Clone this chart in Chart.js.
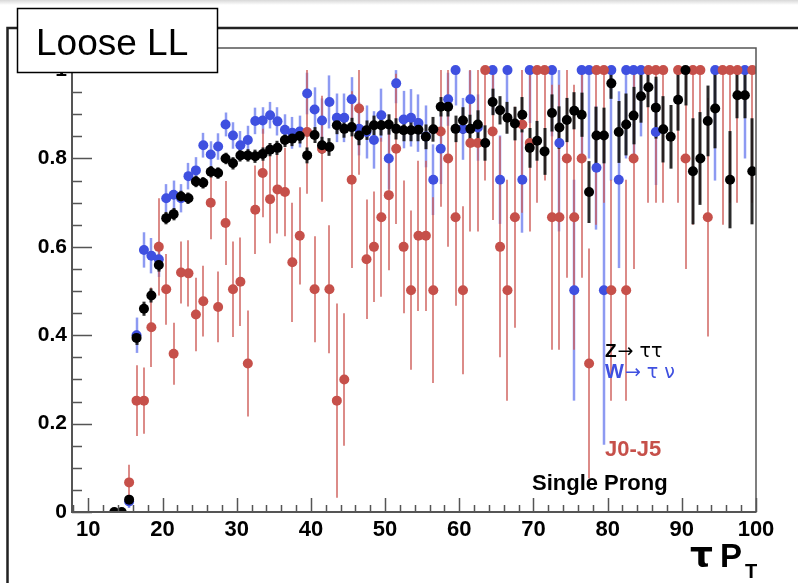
<!DOCTYPE html>
<html>
<head>
<meta charset="utf-8">
<script src="https://cdn.jsdelivr.net/npm/chart.js@4.4.1/dist/chart.umd.min.js"></script>
<style>
  html, body { margin: 0; padding: 0; background: #fff; }
  #wrap { width: 798px; height: 583px; }
</style>
</head>
<body>
<div id="wrap"><canvas id="myChart" width="798" height="583"></canvas></div>
<script>
// tau pT bin centres (GeV)
const ptBins = [
  13.5, 14.5, 15.5, 16.5, 17.5, 18.5, 19.5, 20.5, 21.5, 22.5,
  23.5, 24.5, 25.5, 26.5, 27.5, 28.5, 29.5, 30.5, 31.5, 32.5,
  33.5, 34.5, 35.5, 36.5, 37.5, 38.5, 39.5, 40.5, 41.5, 42.5,
  43.5, 44.5, 45.5, 46.5, 47.5, 48.5, 49.5, 50.5, 51.5, 52.5,
  53.5, 54.5, 55.5, 56.5, 57.5, 58.5, 59.5, 60.5, 61.5, 62.5,
  63.5, 64.5, 65.5, 66.5, 67.5, 68.5, 69.5, 70.5, 71.5, 72.5,
  73.5, 74.5, 75.5, 76.5, 77.5, 78.5, 79.5, 80.5, 81.5, 82.5,
  83.5, 84.5, 85.5, 86.5, 87.5, 88.5, 89.5, 90.5, 91.5, 92.5,
  93.5, 94.5, 95.5, 96.5, 97.5, 98.5, 99.5
];

// Z -> tautau efficiency
const zttVals = [
  0, 0, 0.028, 0.394, 0.46, 0.49, 0.559, 0.665, 0.674, 0.714,
  0.71, 0.748, 0.745, 0.77, 0.767, 0.8, 0.789, 0.807, 0.807, 0.805,
  0.81, 0.82, 0.824, 0.842, 0.845, 0.851, 0.807, 0.853, 0.83, 0.826,
  0.875, 0.867, 0.871, 0.852, 0.864, 0.875, 0.875, 0.877, 0.867, 0.864,
  0.864, 0.865, 0.849, 0.866, 0.917, 0.917, 0.867, 0.886, 0.867, 0.877,
  0.835, 0.928, 0.909, 0.892, 0.879, 0.899, 0.824, 0.84, 0.816, 0.903,
  0.87, 0.887, 0.908, 0.899, 0.724, 0.852, 0.852, 0.97, 0.86, 0.877,
  0.897, 0.941, 0.961, 0.915, 0.866, 0.849, 0.933, 1.0, 0.771, 0.8,
  0.885, 0.913, null, 0.752, 0.943, 0.943, 0.771
];
const zttErrs = [
  0.005, 0.005, 0.01, 0.016, 0.016, 0.016, 0.015, 0.014, 0.014, 0.013,
  0.013, 0.013, 0.013, 0.013, 0.013, 0.013, 0.014, 0.014, 0.014, 0.015,
  0.015, 0.015, 0.016, 0.016, 0.017, 0.017, 0.018, 0.018, 0.019, 0.02,
  0.02, 0.02, 0.021, 0.022, 0.022, 0.022, 0.023, 0.023, 0.024, 0.025,
  0.025, 0.026, 0.028, 0.028, 0.022, 0.022, 0.03, 0.03, 0.032, 0.032,
  0.04, 0.03, 0.032, 0.036, 0.038, 0.04, 0.045, 0.045, 0.053, 0.042,
  0.048, 0.05, 0.042, 0.05, 0.07, 0.065, 0.063, 0.035, 0.07, 0.07,
  0.065, 0.06, 0.045, 0.07, 0.075, 0.072, 0.07, 0.08, 0.12, 0.105,
  0.08, 0.09, null, 0.11, 0.052, 0.052, 0.12
];

// W -> tau nu efficiency
const wtnVals = [
  null, null, 0.024, 0.40, 0.593, 0.58, 0.572, 0.71, 0.718, 0.71,
  0.76, 0.773, 0.83, 0.809, 0.827, 0.877, 0.852, 0.83, 0.842, 0.885,
  0.886, 0.898, 0.884, 0.865, 0.858, 0.861, 0.947, 0.911, 0.886, 0.928,
  0.892, 0.892, 0.934, 0.867, 0.86, 0.842, 0.898, 0.8, 0.97, 0.888,
  0.892, 0.88, 0.85, 0.752, 0.822, 0.934, 1.0, 0.867, 0.934, 0.87,
  null, 1.0, 0.752, 1.0, null, 0.752, 1.0, null, null, 1.0,
  0.835, null, 0.502, 1.0, 1.0, 0.779, 0.502, 1.0, 0.752, 1.0,
  1.0, 1.0, null, 0.86, null, null, null, null, null, null,
  null, 1.0, null, null, null, 1.0, null
];
const wtnErrs = [
  null, null, 0.015, 0.04, 0.04, 0.04, 0.04, 0.032, 0.032, 0.032,
  0.03, 0.03, 0.028, 0.03, 0.03, 0.027, 0.03, 0.032, 0.032, 0.03,
  0.03, 0.03, 0.032, 0.035, 0.036, 0.036, 0.047, 0.05, 0.05, 0.06,
  0.055, 0.055, 0.05, 0.06, 0.06, 0.065, 0.06, 0.07, 0.045, 0.065,
  0.065, 0.065, 0.07, 0.08, 0.08, 0.06, 0.08, 0.07, 0.065, 0.075,
  null, 0.1, 0.1, 0.1, null, 0.12, 0.12, null, null, 0.15,
  0.2, null, 0.25, 0.2, 0.2, 0.14, 0.35, 0.25, 0.2, 0.2,
  0.2, 0.15, null, 0.12, null, null, null, null, null, null,
  null, 0.25, null, null, null, 0.2, null
];

// J0-J5 dijet fake rate
const jetVals = [
  null, null, 0.067, 0.252, 0.252, 0.418, 0.60, 0.504, 0.358, 0.542,
  0.54, 0.447, 0.477, 0.70, 0.464, 0.654, 0.504, 0.521, 0.336, 0.684,
  0.767, 0.708, 0.73, 0.724, 0.565, 0.625, 0.86, 0.504, 0.822, 0.504,
  0.252, 0.30, 0.752, 0.913, 0.572, 0.60, 0.667, 0.717, 0.822, 0.60,
  0.502, 0.625, 0.625, 0.502, 0.861, 0.80, 0.667, 0.502, 0.835, 0.835,
  1.0, 0.861, 0.60, 0.502, 0.667, 0.877, 0.835, 1.0, 1.0, 0.667,
  0.667, 0.80, 0.667, 0.80, 0.336, 1.0, 1.0, 0.502, null, 0.502,
  0.80, null, 1.0, 1.0, 1.0, null, 1.0, 0.80, 1.0, 1.0,
  0.667, null, 1.0, 1.0, 1.0, null, 1.0
];
const jetErrs = [
  null, null, 0.04, 0.08, 0.075, 0.09, 0.11, 0.08, 0.07, 0.07,
  0.075, 0.083, 0.08, 0.083, 0.08, 0.095, 0.108, 0.1, 0.12, 0.1,
  0.1, 0.1, 0.1, 0.1, 0.135, 0.11, 0.14, 0.12, 0.12, 0.145,
  0.22, 0.15, 0.2, 0.15, 0.135, 0.125, 0.18, 0.17, 0.17, 0.15,
  0.18, 0.17, 0.17, 0.21, 0.17, 0.2, 0.2, 0.19, 0.2, 0.2,
  0.25, 0.2, 0.25, 0.25, 0.25, 0.2, 0.2, 0.3, 0.25, 0.3,
  0.3, 0.27, 0.3, 0.27, 0.26, 0.35, 0.3, 0.25, null, 0.25,
  0.25, null, 0.3, 0.3, 0.3, null, 0.3, 0.25, 0.35, 0.3,
  0.27, null, 0.35, 0.3, 0.3, null, 0.3
];

const xTicks = [10, 20, 30, 40, 50, 60, 70, 80, 90, 100];
const yTicks = [0, 0.2, 0.4, 0.6, 0.8, 1];

const black = '#000000';
const blue = '#3f50e0';
const red = '#c6504a';

function makePoints(vals, errs) {
  const pts = [];
  ptBins.forEach((x, i) => {
    if (vals[i] !== null) pts.push({x: x, y: vals[i], err: errs[i] || 0});
  });
  return pts;
}

// vertical error bars, drawn under all markers
const errorBars = {
  id: 'errorBars',
  beforeDatasetsDraw(chart) {
    const ctx = chart.ctx;
    const xs = chart.scales.x;
    const ys = chart.scales.y;
    ctx.save();
    for (let d = chart.data.datasets.length - 1; d >= 0; d--) {
      const ds = chart.data.datasets[d];
      ctx.strokeStyle = ds.barColor;
      ctx.lineWidth = ds.barWidth;
      ds.data.forEach(p => {
        if (!p.err) return;
        const px = Math.round(xs.getPixelForValue(p.x));
        ctx.beginPath();
        ctx.moveTo(px, ys.getPixelForValue(Math.min(1, p.y + p.err)));
        ctx.lineTo(px, ys.getPixelForValue(Math.max(0, p.y - p.err)));
        ctx.stroke();
      });
    }
    ctx.restore();
  }
};

// ROOT style frame, inward ticks, title box and labels
const rootFrame = {
  id: 'rootFrame',
  afterDraw(chart) {
    const ctx = chart.ctx;
    const a = chart.chartArea;
    const xs = chart.scales.x;
    const ys = chart.scales.y;
    ctx.save();

    // faint shadow at top of page
    const g = ctx.createLinearGradient(0, 0, 0, 5);
    g.addColorStop(0, '#d8d8d8');
    g.addColorStop(1, '#ffffff');
    ctx.fillStyle = g;
    ctx.fillRect(0, 0, 798, 5);

    // plot frame
    ctx.strokeStyle = '#555';
    ctx.lineWidth = 1.5;
    ctx.strokeRect(a.left, a.top, a.right - a.left, a.bottom - a.top);
    ctx.lineWidth = 2;
    ctx.beginPath();
    ctx.moveTo(a.left, a.top);
    ctx.lineTo(a.left, a.bottom);
    ctx.lineTo(a.right, a.bottom);
    ctx.stroke();

    // y ticks (inward)
    ctx.lineWidth = 1.5;
    ctx.beginPath();
    for (let k = 0; k <= 21; k++) {
      const v = k * 0.05;
      const py = Math.round(ys.getPixelForValue(v)) + 0.5;
      const len = (k % 4 === 0) ? 20 : 10;
      ctx.moveTo(a.left, py);
      ctx.lineTo(a.left + len, py);
    }
    // x ticks (inward)
    for (let v = 8; v <= 100; v += 2) {
      const px = Math.round(xs.getPixelForValue(v)) + 0.5;
      const len = (v % 10 === 0) ? 14 : 7;
      ctx.moveTo(px, a.bottom);
      ctx.lineTo(px, a.bottom - len);
    }
    ctx.stroke();

    // outer pad frame
    ctx.strokeStyle = '#222';
    ctx.lineWidth = 2.5;
    ctx.beginPath();
    ctx.moveTo(798, 28);
    ctx.lineTo(7.5, 28);
    ctx.lineTo(7.5, 583);
    ctx.stroke();

    // title box
    ctx.fillStyle = '#fff';
    ctx.fillRect(17, 8, 201, 65);
    ctx.strokeStyle = '#000';
    ctx.lineWidth = 1.5;
    ctx.strokeRect(17.5, 8.5, 200, 64);
    ctx.fillStyle = '#000';
    ctx.font = '37px "Liberation Sans"';
    ctx.textBaseline = 'alphabetic';
    ctx.fillText('Loose LL', 36, 55);

    // legend-like labels
    ctx.font = 'bold 19px "Liberation Sans"';
    ctx.fillStyle = black;
    ctx.fillText('Z', 605, 357);
    let w = ctx.measureText('Z').width;
    ctx.font = '19px "DejaVu Sans"';
    ctx.fillText('\u2192 \u03c4\u03c4', 605 + w + 1, 357);

    ctx.font = 'bold 20px "Liberation Sans"';
    ctx.fillStyle = blue;
    ctx.fillText('W', 605, 378);
    w = ctx.measureText('W').width;
    ctx.font = '19px "DejaVu Sans"';
    ctx.fillText('\u2192 \u03c4 \u03bd', 605 + w + 1, 378);

    ctx.font = 'bold 22px "Liberation Sans"';
    ctx.fillStyle = red;
    ctx.fillText('J0-J5', 605, 456);
    ctx.fillStyle = black;
    ctx.fillText('Single Prong', 532, 490);

    // axis title
    ctx.font = 'bold 36px "DejaVu Sans"';
    ctx.fillText('\u03c4', 690, 567);
    ctx.font = 'bold 33px "Liberation Sans"';
    ctx.fillText('P', 720, 567);
    ctx.font = 'bold 20px "Liberation Sans"';
    ctx.fillText('T', 745, 578);

    ctx.restore();
  }
};

Chart.defaults.font.family = '"Liberation Sans", Arial, sans-serif';
Chart.defaults.color = '#000';

const myChart = new Chart(document.getElementById('myChart'), {
  type: 'scatter',
  data: {
    datasets: [
      {
        label: 'Z\u2192\u03c4\u03c4',
        data: makePoints(zttVals, zttErrs),
        backgroundColor: black,
        borderColor: black,
        pointRadius: 5,
        pointBorderWidth: 0,
        barColor: 'rgba(20,20,20,0.9)',
        barWidth: 3
      },
      {
        label: 'J0-J5',
        data: makePoints(jetVals, jetErrs),
        backgroundColor: red,
        borderColor: red,
        pointRadius: 5,
        pointBorderWidth: 0,
        barColor: 'rgba(205,90,85,0.7)',
        barWidth: 2
      },
      {
        label: 'W\u2192\u03c4\u03bd',
        data: makePoints(wtnVals, wtnErrs),
        backgroundColor: blue,
        borderColor: blue,
        pointRadius: 5,
        pointBorderWidth: 0,
        barColor: 'rgba(80,100,235,0.65)',
        barWidth: 2.5
      }
    ]
  },
  options: {
    responsive: false,
    animation: false,
    devicePixelRatio: 1,
    layout: {
      padding: {top: 48, right: 42, left: 0, bottom: 0}
    },
    plugins: {
      legend: {display: false},
      tooltip: {enabled: false}
    },
    scales: {
      x: {
        type: 'linear',
        min: 7.8,
        max: 100,
        grid: {display: false, drawTicks: false},
        border: {display: false},
        afterBuildTicks: scale => { scale.ticks = xTicks.map(v => ({value: v})); },
        afterFit: scale => { scale.height = 71; },
        ticks: {
          padding: 5,
          maxRotation: 0,
          autoSkip: false,
          font: {size: 22, weight: 'bold'}
        }
      },
      y: {
        type: 'linear',
        min: 0,
        max: 1.05,
        grid: {display: false, drawTicks: false},
        border: {display: false},
        afterBuildTicks: scale => { scale.ticks = yTicks.map(v => ({value: v})); },
        afterFit: scale => { scale.width = 72; },
        ticks: {
          padding: 5,
          autoSkip: false,
          font: {size: 21, weight: 'bold'},
          callback: v => String(v)
        }
      }
    }
  },
  plugins: [errorBars, rootFrame]
});
</script>
</body>
</html>
